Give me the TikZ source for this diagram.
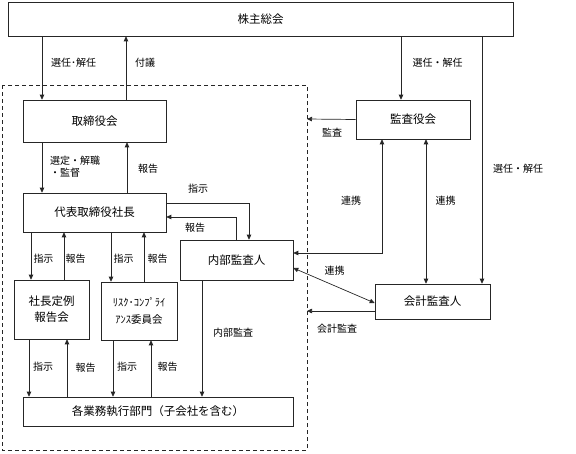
\documentclass[tikz,border=0pt]{standalone}
\usepackage{fontspec}
\setmainfont{Noto Sans CJK JP}
\usetikzlibrary{arrows.meta}
\begin{document}
\begin{tikzpicture}[x=1pt,y=-1pt,
  box/.style={draw=black!85,line width=0.6pt,inner sep=0pt,font=\fontsize{11.5}{13}\selectfont,align=center},
  arr/.style={draw=black!85,line width=0.7pt,-{Triangle[length=5pt,width=4.5pt]}},
  darr/.style={draw=black!85,line width=0.7pt,{Triangle[length=5pt,width=4.5pt]}-{Triangle[length=5pt,width=4.5pt]}},
  lbl/.style={font=\fontsize{10}{11.5}\selectfont,inner sep=0pt},
  frame/.style={draw=black!85,line width=0.7pt,dash pattern=on 4pt off 3pt}]
\useasboundingbox (0,0) rectangle (576,453);
% boxes
\node[box,minimum width=505pt,minimum height=34pt] (sh) at (260.5,19) {株主総会};
\node[box,minimum width=143pt,minimum height=42pt] (bod) at (94.5,121) {取締役会};
\node[box,minimum width=143pt,minimum height=39pt] (pres) at (94.5,212.5) {代表取締役社長};
\node[box,minimum width=114pt,minimum height=39pt] (kansa) at (413,119.5) {監査役会};
\node[box,minimum width=113pt,minimum height=40pt] (naibu) at (236.5,260) {内部監査人};
\node[box,minimum width=115pt,minimum height=35pt] (kaikei) at (432.5,301.5) {会計監査人};
\node[box,minimum width=75pt,minimum height=59pt,font=\fontsize{11.5}{16}\selectfont] (rep) at (51.5,309.5) {社長定例\\報告会};
\node[box,minimum width=76pt,minimum height=58pt,font=\fontsize{10.5}{17}\selectfont] (risk) at (139,311) {ﾘｽｸ･ｺﾝﾌﾟﾗｲ\\ｱﾝｽ委員会};
\node[box,minimum width=270pt,minimum height=29pt] (dept) at (158,411.5) {各業務執行部門（子会社を含む）};
% dashed frame
\draw[frame] (2,85) rectangle (307,450);
\coordinate (fa) at (307,119);
\coordinate (fb) at (307,311);
% connectors
\draw[arr] (42,0 |- sh.south) -- (42,0 |- bod.north);
\draw[arr] (126,0 |- bod.north) -- (126,0 |- sh.south);
\draw[arr] (401,0 |- sh.south) -- (401,0 |- kansa.north);
\draw[arr] (482,0 |- sh.south) -- (482,0 |- kaikei.north);
\draw[arr] (kansa.west) -- (fa);
\draw[arr] (kaikei.west |- fb) -- (fb);
\draw[arr] (42,0 |- bod.south) -- (42,0 |- pres.north);
\draw[arr] (127,0 |- pres.north) -- (127,0 |- bod.south);
\draw[arr] (pres.east |- 0,203) -| (249,0 |- naibu.north);
\draw[arr] (236,0 |- naibu.north) |- (pres.east |- 0,217);
\draw[arr] (31,0 |- pres.south) -- (31,0 |- rep.north);
\draw[arr] (64,0 |- rep.north) -- (64,0 |- pres.south);
\draw[arr] (111,0 |- pres.south) -- (111,0 |- risk.north);
\draw[arr] (144,0 |- risk.north) -- (144,0 |- pres.south);
\draw[arr] (29,0 |- rep.south) -- (29,0 |- dept.north);
\draw[arr] (67,0 |- dept.north) -- (67,0 |- rep.south);
\draw[arr] (113,0 |- risk.south) -- (113,0 |- dept.north);
\draw[arr] (151,0 |- dept.north) -- (151,0 |- risk.south);
\draw[arr] (202,0 |- naibu.south) -- (202,0 |- dept.north);
\draw[darr] (naibu.east |- 0,253) -| (382,0 |- kansa.south);
\draw[darr] (426,0 |- kansa.south) -- (426,0 |- kaikei.north);
\draw[darr] (naibu.east |- 0,268) -- (kaikei.west |- 0,303);
% labels
\node[lbl] (l1) at (73.5,63) {選任･解任};
\node[lbl] (l2) at (145,63) {付議};
\node[lbl] (l3) at (437.5,63) {選任・解任};
\node[lbl,align=left,font=\fontsize{10}{12}\selectfont] (l4) at (75,167) {選定・解職\\・監督};
\node[lbl] (l5) at (148,169) {報告};
\node[lbl] (l6) at (198,189) {指示};
\node[lbl] (l7) at (195,228) {報告};
\node[lbl] (l8) at (43.5,259) {指示};
\node[lbl] (l9) at (75.5,259) {報告};
\node[lbl] (l10) at (123.5,259) {指示};
\node[lbl] (l11) at (157.5,259) {報告};
\node[lbl] (l12) at (43,367) {指示};
\node[lbl] (l13) at (85.5,368) {報告};
\node[lbl] (l14) at (127,367) {指示};
\node[lbl] (l15) at (167.5,367) {報告};
\node[lbl] (l16) at (233,333) {内部監査};
\node[lbl] (l17) at (332,133) {監査};
\node[lbl] (l18) at (351,201) {連携};
\node[lbl] (l19) at (445.5,201) {連携};
\node[lbl] (l20) at (334.5,271) {連携};
\node[lbl] (l21) at (518,169) {選任・解任};
\node[lbl] (l22) at (337,329) {会計監査};
\end{tikzpicture}
\end{document}
